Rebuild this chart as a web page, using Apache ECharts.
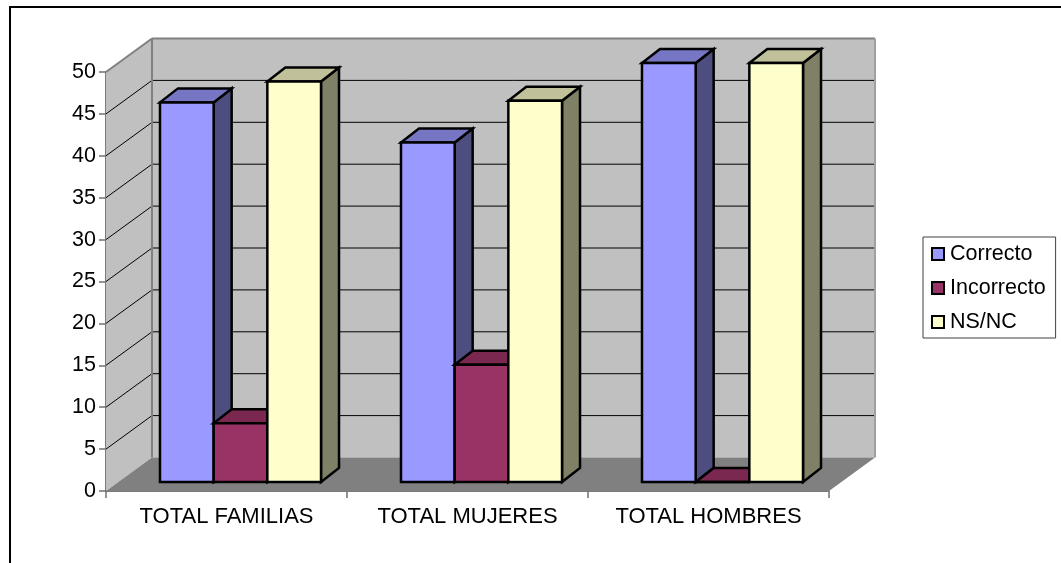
<!DOCTYPE html>
<html>
<head>
<meta charset="utf-8">
<style>html,body{margin:0;padding:0;background:#fff;overflow:hidden}#c{width:1061px;height:563px}</style>
<script src="https://cdn.jsdelivr.net/npm/echarts@6/dist/echarts.min.js"></script>
</head>
<body>
<div id="c"></div>
<script>
const categories = ['TOTAL FAMILIAS', 'TOTAL MUJERES', 'TOTAL HOMBRES'];
const correcto = [45.3, 40.5, 50];
const incorrecto = [7, 14, 0];
const nsnc = [47.8, 45.5, 50];
const wallTicks = [5, 10, 15, 20, 25, 30, 35, 40, 45, 50];

const FONT = '"Liberation Sans", Arial, sans-serif';
const WALL_DX = 46, WALL_DY = -33.5;
const BAR_DX = 14, BAR_DY = -9;
const DEPTH_DX = 18, DEPTH_DY = -14;
const EDGE = '#808080';
const FONT_SIZE = 21.5;
const BAR_STROKE = 2.5;

function poly(points, fill, stroke, lw) {
  return { type: 'polygon', shape: { points }, style: { fill, stroke: stroke || 'none', lineWidth: lw || 0, lineJoin: 'miter' } };
}
function seg(x1, y1, x2, y2, color, lw) {
  return { type: 'line', shape: { x1, y1, x2, y2 }, style: { stroke: color, lineWidth: lw, fill: 'none' } };
}

function renderWalls(params, api) {
  const cs = params.coordSys;
  const xl = cs.x, xr = cs.x + cs.width, yb = cs.y + cs.height, yt = cs.y;
  const children = [
    poly([[xl, yb], [xl + WALL_DX, yb + WALL_DY], [xl + WALL_DX, yt + WALL_DY], [xl, yt]], '#c0c0c0'),
    poly([[xl + WALL_DX, yb + WALL_DY], [xr + WALL_DX, yb + WALL_DY], [xr + WALL_DX, yt + WALL_DY], [xl + WALL_DX, yt + WALL_DY]], '#c0c0c0'),
    poly([[xl, yb], [xr, yb], [xr + WALL_DX, yb + WALL_DY], [xl + WALL_DX, yb + WALL_DY]], '#808080')
  ];
  wallTicks.forEach(function (v) {
    const y = api.coord([0, v])[1];
    if (v < 50) {
      children.push(seg(xl, y, xl + WALL_DX, y + WALL_DY, '#000', 1));
      children.push(seg(xl + WALL_DX, y + WALL_DY, xr + WALL_DX, y + WALL_DY, '#000', 1));
    }
  });
  children.push(seg(xl + WALL_DX, yb + WALL_DY, xl + WALL_DX, yt + WALL_DY, EDGE, 2));
  children.push(seg(xl, yt, xl + WALL_DX, yt + WALL_DY, EDGE, 2));
  children.push(seg(xl + WALL_DX, yt + WALL_DY, xr + WALL_DX, yt + WALL_DY, EDGE, 2));
  children.push(seg(xr + WALL_DX, yt + WALL_DY, xr + WALL_DX, yb + WALL_DY, '#a0a0a0', 2));
  return { type: 'group', children };
}

function barRenderer(k, front, top, side) {
  return function (params, api) {
    const base = api.coord([api.value(0), 0]);
    const head = api.coord([api.value(0), api.value(1)]);
    const w = api.size([1, 0])[0] / 4.49;
    const x0 = base[0] + BAR_DX + (k - 1.5) * w, x1 = x0 + w;
    const yb = base[1] + BAR_DY, yt = head[1] + BAR_DY;
    const d = DEPTH_DX, e = DEPTH_DY;
    return { type: 'group', children: [
      poly([[x1, yb], [x1 + d, yb + e], [x1 + d, yt + e], [x1, yt]], side, '#000', BAR_STROKE),
      poly([[x0, yt], [x1, yt], [x1 + d, yt + e], [x0 + d, yt + e]], top, '#000', BAR_STROKE),
      poly([[x0, yb], [x1, yb], [x1, yt], [x0, yt]], front, '#000', BAR_STROKE)
    ] };
  };
}

function makeSeries(name, values, k, front, top, side) {
  return {
    name, type: 'custom', z: 5 + k, clip: false,
    itemStyle: { color: front },
    renderItem: barRenderer(k, front, top, side),
    data: values.map((v, i) => [i, v]),
    encode: { x: 0, y: 1 }
  };
}

const chart = echarts.init(document.getElementById('c'), null, { renderer: 'canvas' });
chart.setOption({
  animation: false,
  backgroundColor: '#fff',
  textStyle: { fontFamily: FONT },
  graphic: [{ type: 'rect', silent: true, z: 0, shape: { x: 10, y: 7, width: 1100, height: 600 }, style: { fill: 'none', stroke: '#000', lineWidth: 2 } }],
  grid: { left: 106, top: 72, width: 723, height: 419, containLabel: false },
  legend: {
    left: 923, top: 237, orient: 'vertical', icon: 'rect',
    padding: [6, 10, 5, 8], itemWidth: 12, itemHeight: 12, itemGap: 12,
    borderColor: '#404040', borderWidth: 1, backgroundColor: '#fff',
    itemStyle: { borderColor: '#000', borderWidth: 2 },
    textStyle: { fontFamily: FONT, fontSize: FONT_SIZE, lineHeight: 22, color: '#000', padding: [0, 0, 0, 1] },
    data: ['Correcto', 'Incorrecto', 'NS/NC']
  },
  xAxis: {
    type: 'category', data: categories, boundaryGap: true,
    axisLine: { lineStyle: { color: '#505050', width: 1.5 } },
    axisTick: { show: true, length: 7, interval: 0, alignWithLabel: false, lineStyle: { color: '#707070', width: 1.5 } },
    axisLabel: { fontFamily: FONT, fontSize: 22, color: '#000', margin: 15, interval: 0, hideOverlap: false },
    splitLine: { show: false }
  },
  yAxis: {
    type: 'value', min: 0, max: 50, interval: 5,
    axisLine: { show: true, lineStyle: { color: '#505050', width: 1.5 } },
    axisTick: { show: true, length: 7, lineStyle: { color: '#707070', width: 1.5 } },
    axisLabel: { fontFamily: FONT, fontSize: FONT_SIZE, color: '#000', margin: 10, padding: [2, 0, 0, 0] },
    splitLine: { show: false }
  },
  series: [
    { type: 'custom', z: 1, clip: false, silent: true, renderItem: renderWalls, data: [[0, 0]], encode: { x: 0, y: 1 } },
    makeSeries('Correcto', correcto, 0, '#9999ff', '#7676c4', '#4d4d80'),
    makeSeries('Incorrecto', incorrecto, 1, '#993366', '#7a2850', '#4d1a33'),
    makeSeries('NS/NC', nsnc, 2, '#ffffcc', '#c0c09a', '#808066')
  ]
});
</script>
</body>
</html>
